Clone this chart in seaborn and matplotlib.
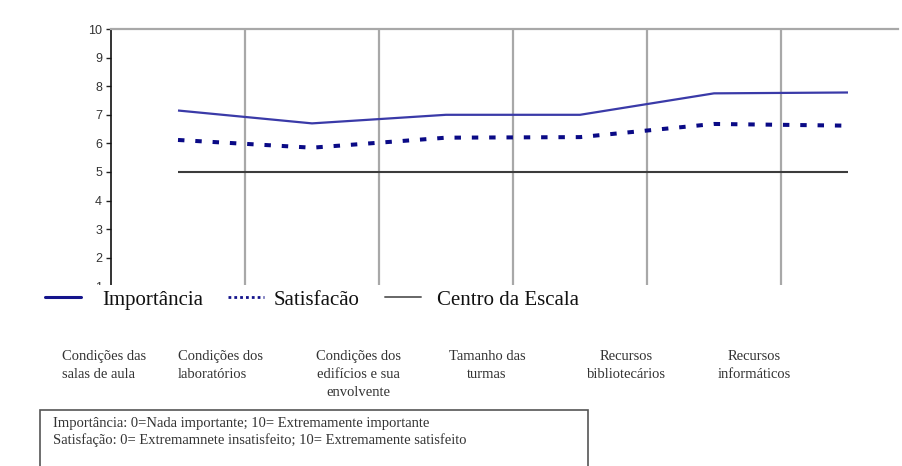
import matplotlib
matplotlib.use("Agg")
import matplotlib.pyplot as plt
from matplotlib.patches import Rectangle
import seaborn as sns
import pandas as pd

categorias = [
    "Condições das\nsalas de aula",
    "Condições dos\nlaboratórios",
    "Condições dos\nedifícios e sua\nenvolvente",
    "Tamanho das\nturmas",
    "Recursos\nbibliotecários",
    "Recursos\ninformáticos",
]
importancia = [7.15, 6.7, 7.0, 7.0, 7.75, 7.78]
satisfacao = [6.12, 5.85, 6.2, 6.22, 6.68, 6.62]
centro = [5, 5, 5, 5, 5, 5]
series = ["Importância", "Satisfacão", "Centro da Escala"]
yticks = list(range(0, 11))

df = pd.DataFrame({
    "pos": list(range(len(categorias))) * 3,
    "valor": importancia + satisfacao + centro,
    "serie": [s for s in series for _ in categorias],
})

sns.set_theme(style="white")
plt.rcParams["font.family"] = ["Liberation Serif", "DejaVu Serif"]

fig = plt.figure(figsize=(9.02, 4.66), dpi=100)
W, H = 902, 466
ax = fig.add_axes([111 / W, (H - 315) / H, 804 / W, 286 / H])

cores = {"Importância": "#3a3aa8", "Satisfacão": "#0a0a86", "Centro da Escala": "#3c3c3c"}
sns.lineplot(data=df, x="pos", y="valor", hue="serie", hue_order=series,
             palette=cores, ax=ax, legend=False, sort=False)
estilos = [
    dict(lw=1.6, ls="-"),
    dict(lw=2.9, ls=(0, (1.6, 2.7))),
    dict(lw=1.5, ls="-"),
]
for ln, st in zip(ax.get_lines(), estilos):
    ln.set_linewidth(st["lw"])
    ln.set_linestyle(st["ls"])
    ln.set_solid_capstyle("butt")
    ln.set_dash_capstyle("butt")

ax.set_xlim(-0.5, len(categorias) - 0.5)
ax.set_ylim(0, 10)
ax.set_xlabel("")
ax.set_ylabel("")
ax.set_yticks(yticks)
ax.set_yticklabels([str(t) for t in yticks], family="Liberation Sans",
                   fontsize=9, color="#333333")
ax.set_xticks([])
ax.set_xticks([i + 0.5 for i in range(len(categorias) - 1)], minor=True)
ax.grid(True, which="minor", axis="x", color="#a8a8a8", lw=1.6)
ax.grid(False, which="major")
ax.tick_params(axis="y", which="major", left=True, length=3.5, width=1,
               color="#222222", pad=3)
ax.tick_params(axis="x", which="minor", bottom=False)
for side in ["right", "bottom"]:
    ax.spines[side].set_visible(False)
ax.spines["left"].set_color("#111111")
ax.spines["left"].set_linewidth(1.2)
ax.spines["top"].set_color("#a8a8a8")
ax.spines["top"].set_linewidth(1.6)
ax.spines["top"].set_bounds(-0.5, 5.37)

# white panel that carries the legend, labels and note
fig.add_artist(Rectangle((0, 0), 1, (H - 285) / H, transform=fig.transFigure,
                         facecolor="white", edgecolor="none", zorder=1))

# legend: one entry per block so each can sit at its own place
leg_handles = [
    plt.Line2D([], [], color="#14148c", lw=2.2, ls="-"),
    plt.Line2D([], [], color="#14148c", lw=2.0, ls=(0, (1, 1.1))),
    plt.Line2D([], [], color="#666666", lw=1.4, ls="-"),
]
leg_x = [45, 228, 385]
leg_pad = [1.0, 0.45, 0.75]
for h, s, lx, pad in zip(leg_handles, series, leg_x, leg_pad):
    leg = fig.legend([h], [s], loc="center left", frameon=False,
                     bbox_to_anchor=(lx / W, (H - 300) / H), fontsize=15,
                     handlelength=1.75, handletextpad=pad,
                     borderaxespad=0, borderpad=0)
    leg.get_texts()[0].set_color("#111111")

# category captions: (x, horizontal alignment)
cat_pos = [(62, "left"), (178, "left"), (358, "center"),
           (487, "center"), (626, "center"), (754, "center")]
for (cx, al), lab in zip(cat_pos, categorias):
    fig.text(cx / W, (H - 350) / H, lab, ha=al, va="top", fontsize=10.5,
             color="#333333", linespacing=1.5, multialignment=al, zorder=3)

fig.add_artist(Rectangle((40 / W, -0.05), 548 / W, (H - 410) / H + 0.05,
                         transform=fig.transFigure, facecolor="white",
                         edgecolor="#555555", lw=1.2, zorder=2))
fig.text(53 / W, (H - 423) / H,
         "Importância: 0=Nada importante; 10= Extremamente importante",
         ha="left", va="center", fontsize=10.5, color="#333333", zorder=3)
fig.text(53 / W, (H - 440) / H,
         "Satisfação: 0= Extremamnete insatisfeito; 10= Extremamente satisfeito",
         ha="left", va="center", fontsize=10.5, color="#333333", zorder=3)

fig.savefig("out.png", dpi=100, facecolor="white")
